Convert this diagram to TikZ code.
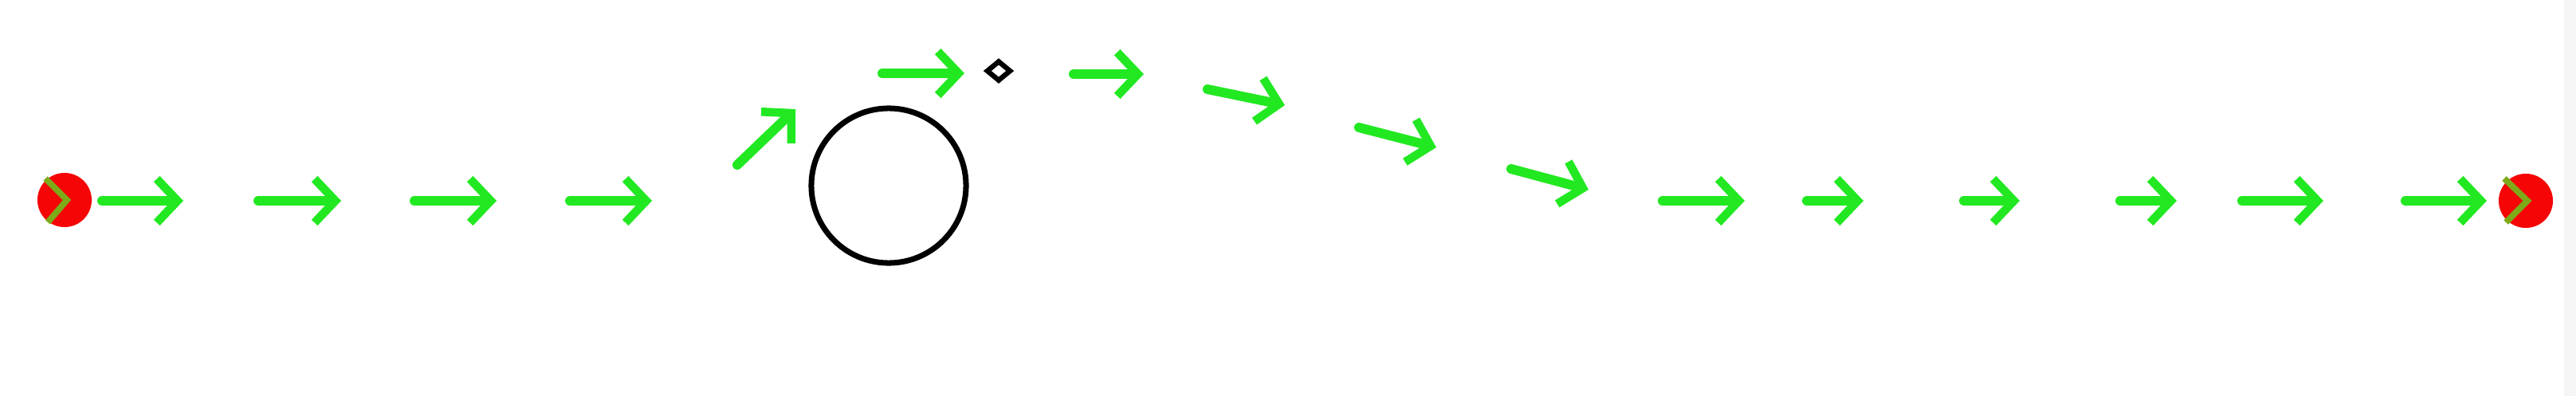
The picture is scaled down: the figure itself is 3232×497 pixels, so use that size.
\documentclass[tikz,border=0pt]{standalone}
\usepackage{tikz}
\usetikzlibrary{calc,arrows.meta,shapes.geometric}
\definecolor{vecgreen}{RGB}{34,232,34}
\definecolor{dotred}{RGB}{245,5,5}
\definecolor{chevgreen}{RGB}{125,170,25}

\begin{document}
\begin{tikzpicture}[x=0.01cm, y=-0.01cm,
        vec/.style={vecgreen, line width=3.4pt, line cap=round, -{Straight Barb[length=7.4pt, width=15.6pt, line width=3pt]}},
        dot/.style={circle, fill=dotred, inner sep=0pt, minimum size=0.68cm},
        chev/.style={chevgreen, line width=2.2pt}]
            \useasboundingbox (0,0) rectangle (3232,497);
            \fill[black!4] (3217,0) rectangle (3232,497);
            \node[dot] (S) at (81,251) {};
            \node[dot] (G) at (3169,252) {};
            \draw[chev] (S) ++(-24,-27) -- ++(27,27) -- ++(-24,28);
            \draw[chev] (G) ++(-27,-28) -- ++(29,28) -- ++(-27,27);
            \node[circle, draw, line width=2pt, inner sep=0pt, minimum size=1.94cm] (O) at (1115,233) {};
            \node[diamond, draw, line width=1.8pt, inner sep=0pt, minimum width=0.31cm, minimum height=0.26cm] (D) at (1253,89) {};
            \foreach \xa/\ya/\xb/\yb [count=\i] in {128/252/230/252, 324/252/428/252, 520/252/623/252, 715/252/818/252,
                    925/207/998/137, 1107/92/1210/92, 1347/93/1435/93, 1515/112/1612/132, 1705/160/1802/185,
                    1896/212/1993/238, 2086/252/2189/252, 2267/252/2338/252, 2464/252/2534/252, 2660/252/2731/252,
                    2813/252/2915/252, 3018/252/3120/252} {
                \coordinate (T\i) at (\xa,\ya);
                \coordinate (H\i) at (\xb,\yb);
                \draw[vec] (T\i) -- (H\i);
            }
        \end{tikzpicture}
\end{document}
